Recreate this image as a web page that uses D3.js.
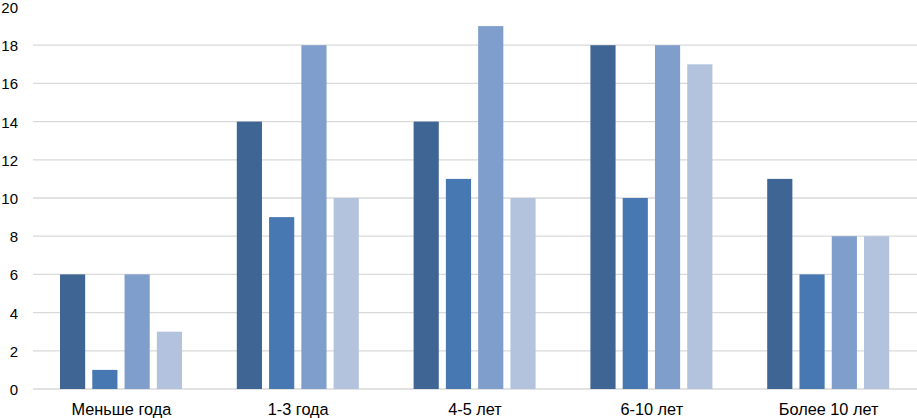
<!DOCTYPE html>
<html><head><meta charset="utf-8">
<script src="https://cdn.jsdelivr.net/npm/d3@7"></script>
<style>body{margin:0;background:#fff}svg{display:block}text{font-family:"Liberation Sans",Arial,sans-serif;fill:#000}</style>
</head><body><svg id="c" width="917" height="418"></svg>
<script>
const categories = ["Меньше года", "1-3 года", "4-5 лет", "6-10 лет", "Более 10 лет"];
const series1 = [6, 14, 14, 18, 11];
const series2 = [1, 9, 11, 10, 6];
const series3 = [6, 18, 19, 18, 8];
const series4 = [3, 10, 10, 17, 8];
const yTicks = [0, 2, 4, 6, 8, 10, 12, 14, 16, 18, 20];
const colors = ["#3f6594", "#4878b2", "#809ecb", "#b3c3de"];

(function () {
const allSeries = [series1, series2, series3, series4];
const svg = d3.select("#c");
const mLeft = 33, mRight = 917, mTop = 7, mBottom = 389;
const y = d3.scaleLinear().domain([0, 20]).range([mBottom, mTop]);
const x0 = d3.scaleBand().domain(categories).range([mLeft, mRight]).paddingInner(0).paddingOuter(0);
const x1 = d3.scaleBand().domain(d3.range(4)).range([27, x0.bandwidth() - 27.8]).paddingInner(0.22).paddingOuter(0);

svg.append("g").selectAll("line").data(yTicks.filter(t => t < 20)).join("line")
  .attr("x1", mLeft).attr("x2", mRight)
  .attr("y1", d => y(d)).attr("y2", d => y(d))
  .attr("stroke", "#d9d9d9").attr("stroke-width", 1.3);

const yAxis = d3.axisLeft(y).tickValues(yTicks).tickSize(0).tickPadding(0);
const ga = svg.append("g").attr("transform", "translate(18,0)").call(yAxis);
ga.select(".domain").remove();
ga.selectAll("text").style("font-size", "15px").attr("fill", "#000").attr("dy", "0.36em")
  .style("font-family", '"Liberation Sans",Arial,sans-serif');

const groups = svg.append("g").selectAll("g").data(categories).join("g")
  .attr("transform", d => `translate(${x0(d)},0)`);
groups.selectAll("rect").data((d, i) => allSeries.map((s, k) => ({k, v: s[i]}))).join("rect")
  .attr("x", d => x1(d.k)).attr("width", x1.bandwidth())
  .attr("y", d => y(d.v)).attr("height", d => y(0) - y(d.v))
  .attr("fill", d => colors[d.k]);

const xAxis = d3.axisBottom(x0).tickSize(0).tickPadding(0);
const gx = svg.append("g").attr("transform", `translate(0,${mBottom})`).call(xAxis);
gx.select(".domain").remove();
gx.selectAll("text").attr("dy", null).attr("y", 26).style("font-size", "16.3px").attr("fill", "#000")
  .style("font-family", '"Liberation Sans",Arial,sans-serif');
})();
</script></body></html>
